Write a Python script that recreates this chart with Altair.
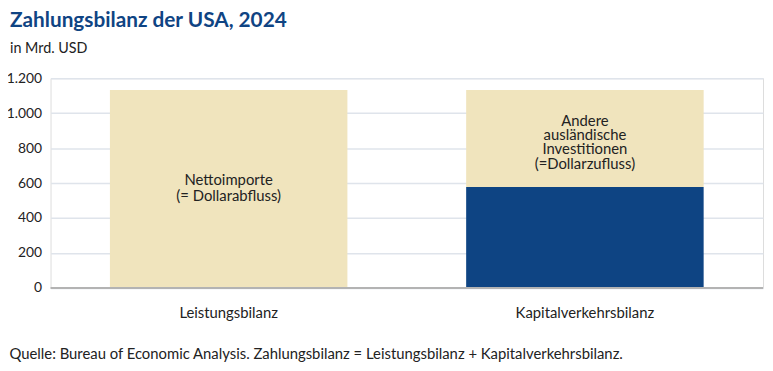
import altair as alt
import pandas as pd

categories = ["Leistungsbilanz", "Kapitalverkehrsbilanz", "Kapitalverkehrsbilanz"]
segments = ["Nettoimporte", "Direktinvestitionen", "Andere"]
values = [1133, 577, 556]
labels = ["Nettoimporte\n(= Dollarabfluss)", "", "Andere\nausländische\nInvestitionen\n(=Dollarzufluss)"]
colors = ["beige", "blue", "beige"]
y_ticks = [0, 200, 400, 600, 800, 1000, 1200]

df = pd.DataFrame({"cat": categories, "seg": segments, "val": values, "label": labels, "col": colors})
df["end"] = df.groupby("cat")["val"].cumsum()
df["start"] = df["end"] - df["val"]
df["mid"] = (df["start"] + df["end"]) / 2

FONT = "Lato"
TXT = "#222222"
cat_order = ["Leistungsbilanz", "Kapitalverkehrsbilanz"]

x_axis = alt.Axis(
    title="Quelle: Bureau of Economic Analysis. Zahlungsbilanz = Leistungsbilanz + Kapitalverkehrsbilanz.",
    titleFont=FONT, titleFontSize=15, titleFontWeight="normal", titleColor=TXT,
    titleAnchor="start", titleAlign="left", titleBaseline="middle",
    titleX=-42, titleY=66,
    labelFont=FONT, labelFontSize=15, labelColor=TXT, labelPadding=18,
    labelAngle=0, ticks=False, domain=False, grid=False,
)
x_scale = alt.Scale(paddingInner=1 / 3, paddingOuter=1 / 6)

y_axis = alt.Axis(
    title=None, values=y_ticks,
    labelExpr="replace(format(datum.value, ','), ',', '.')",
    labelFont=FONT, labelFontSize=14, labelColor=TXT, labelPadding=9,
    labelOverlap=False,
    ticks=False, domain=False, grid=True, gridColor="#dfe4eb", gridWidth=1.5,
)
y_scale = alt.Scale(domain=[0, 1200], nice=False)


def xe():
    return alt.X("cat:N", sort=cat_order, scale=x_scale, axis=x_axis)


def ye(field):
    return alt.Y(field, scale=y_scale, axis=y_axis)


bars = alt.Chart(df).mark_bar(size=240).encode(
    x=xe(),
    y=ye("start:Q"),
    y2="end:Q",
    color=alt.Color("col:N", scale=alt.Scale(domain=["beige", "blue"], range=["#f0e4bd", "#0e4483"]), legend=None),
)

zero = alt.Chart(pd.DataFrame({"v": [0]})).mark_rule(color="#b3b3b3", strokeWidth=2).encode(
    y=ye("v:Q")
)

left_df = df[df["cat"] == "Leistungsbilanz"]
right_df = df[(df["cat"] == "Kapitalverkehrsbilanz") & (df["label"] != "")]

text_left = alt.Chart(left_df).mark_text(
    font=FONT, fontSize=15, color=TXT, lineBreak="\n", lineHeight=16, baseline="middle", dy=-9
).encode(
    x=xe(),
    y=ye("mid:Q"),
    text="label:N",
)

text_right = alt.Chart(right_df).mark_text(
    font=FONT, fontSize=15, color=TXT, lineBreak="\n", lineHeight=14.5, baseline="middle", dy=-18
).encode(
    x=xe(),
    y=ye("mid:Q"),
    text="label:N",
)

chart = alt.layer(bars, zero, text_left, text_right).properties(
    width=720,
    height=212,
    autosize=alt.AutoSizeParams(type="none"),
    padding={"left": 43, "top": 69, "right": 2, "bottom": 82},
    title=alt.TitleParams(
        text="Zahlungsbilanz der USA, 2024",
        subtitle="in Mrd. USD",
        anchor="start", frame="group", dx=-41,
        font=FONT, fontSize=21, fontWeight="bold", color="#0f4483",
        subtitleFont=FONT, subtitleFontSize=14.5, subtitleColor=TXT,
        subtitlePadding=11, offset=16,
    ),
).configure_view(strokeWidth=0).configure(background="white")

chart.save("out.html", embed_options={"renderer": "svg", "actions": False})
